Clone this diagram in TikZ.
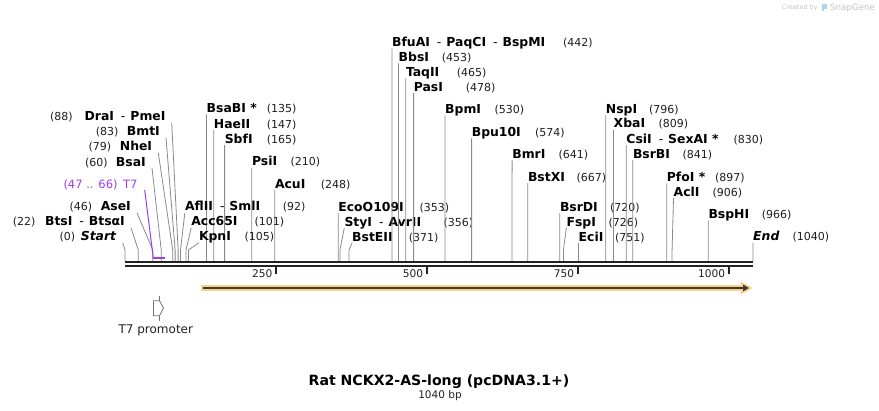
\documentclass[tikz,border=0pt]{standalone}
\usepackage{fontspec}
\setmainfont{DejaVu Sans}
\usetikzlibrary{arrows.meta}
\definecolor{barC}{HTML}{222222}
\definecolor{cutC}{HTML}{8A8A8A}
\definecolor{purC}{HTML}{A03CF0}
\definecolor{oraC}{HTML}{FDD085}
\definecolor{arrC}{HTML}{3A3A3A}
\definecolor{wmC}{HTML}{C4C4C4}
\definecolor{logoC}{HTML}{A9D5F2}
\newcommand\sepd{\hspace{7pt}\textmd{-}\hspace{5pt}}
% key, name, numx, num, bp, ycenter, label x (left edge)
\newcommand\siteR[7]{%
  \node[nm, anchor=base west] (#1) at (#7, #6+4.3) {#2};
  \node[nu, anchor=base west] (#1n) at (#3, #6+4.3) {#4};
  \coordinate (#1k) at ({125+0.60385*#5}, 250);
  \coordinate (#1b) at ({125+0.60385*#5}, 261);
  \draw[cut] ([yshift=-1.8pt]#1.base west) -- (#1k) -- (#1b);
}
% key, name, numx, num, bp, ycenter, label x (right edge)
\newcommand\siteL[7]{%
  \node[nm, anchor=base east] (#1) at (#7, #6+4.3) {#2};
  \node[nu, anchor=base west] (#1n) at (#3, #6+4.3) {#4};
  \coordinate (#1k) at ({125+0.60385*#5}, 250);
  \coordinate (#1b) at ({125+0.60385*#5}, 261);
  \draw[cut] ([xshift=6pt,yshift=-1.8pt]#1.base east) -- (#1k) -- (#1b);
}
\begin{document}
\begin{tikzpicture}[x=1pt,y=-1pt,
  nm/.style={inner sep=0pt, font=\fontsize{12.4}{14}\selectfont\bfseries, text=black},
  nu/.style={inner sep=0pt, font=\fontsize{11}{13}\selectfont, text=black!88},
  cut/.style={draw=cutC, line width=0.8pt},
  tk/.style={inner sep=0pt, font=\fontsize{10.6}{12}\selectfont, text=barC},
  t7lab/.style={inner sep=0pt, font=\fontsize{11.5}{13}\selectfont, text=purC}]
\useasboundingbox (0,0) rectangle (879,411);
\fill[white] (0,0) rectangle (879,411);

% watermark
\node[inner sep=0pt, anchor=base west, font=\fontsize{6.5}{8}\selectfont, text=wmC] (wm1) at (781.7,9.3) {Created by};
\fill[logoC] (822,4) rectangle (827.3,8.6);
\fill[logoC] (822,8.6) rectangle (824.3,11.3);
\node[inner sep=0pt, anchor=base west, font=\fontsize{8.7}{10}\selectfont, text=wmC] (wm2) at (830,10.2) {SnapGene};

% left-side labels
\siteL{st}{\textit{Start}}{59.3}{(0)}{0}{236.7}{116.7}
\siteL{bts}{BtsI\sepd BtsαI}{12.7}{(22)}{22}{221.7}{125}
\siteL{ase}{AseI}{69.3}{(46)}{46}{206.7}{131}
\siteL{bsa}{BsaI}{85}{(60)}{60}{162}{146}
\siteL{nhe}{NheI}{88.3}{(79)}{79}{146.7}{152.3}
\siteL{bmt}{BmtI}{95.7}{(83)}{83}{131.7}{160}
\siteL{dra}{DraI\sepd PmeI}{50}{(88)}{88}{116.7}{165.7}

% T7 primer binding
\node[t7lab, anchor=base east] (t7) at (137.7,188.3) {T7};
\node[t7lab, anchor=base west] (t7n) at (63.3,188.3) {(47 .. 66)};
\coordinate (t7s) at (153.4,257.7);
\coordinate (t7e) at (164.9,257.7);
\draw[purC, line width=1pt] ([xshift=7pt,yshift=-1.8pt]t7.base east) -- ([yshift=-1pt]t7s);
\draw[purC, line width=2.3pt] (t7s) -- (t7e);

% right-side labels
\siteR{bsabi}{BsaBI *}{266.7}{(135)}{135}{108.3}{206.5}
\siteR{hae}{HaeII}{266.7}{(147)}{147}{124}{213.7}
\siteR{sbf}{SbfI}{266.7}{(165)}{165}{139}{224.6}
\siteR{psi}{PsiI}{290.4}{(210)}{210}{161.7}{251.8}
\siteR{acu}{AcuI}{320.7}{(248)}{248}{184}{274.8}
\siteR{afl}{AflII\sepd SmlI}{282.7}{(92)}{92}{206.7}{184.8}
\siteR{acc}{Acc65I}{254.3}{(101)}{101}{221.7}{191.2}
\siteR{kpn}{KpnI}{244.3}{(105)}{105}{236.7}{198.8}
\siteR{eco}{EcoO109I}{419.3}{(353)}{353}{207}{338.2}
\siteR{sty}{StyI\sepd AvrII}{443.3}{(356)}{356}{222}{344.3}
\siteR{bste}{BstEII}{408.7}{(371)}{371}{237}{352}
\siteR{bfu}{BfuAI\sepd PaqCI\sepd BspMI}{563}{(442)}{442}{42.3}{391.9}
\siteR{bbs}{BbsI}{441.7}{(453)}{453}{57.3}{398.5}
\siteR{taq}{TaqII}{456.7}{(465)}{465}{72.3}{405.8}
\siteR{pas}{PasI}{465.7}{(478)}{478}{87}{413.6}
\siteR{bpm}{BpmI}{494.3}{(530)}{530}{109.3}{445.0}
\siteR{bpu}{Bpu10I}{535}{(574)}{574}{132.3}{471.6}
\siteR{bmr}{BmrI}{558.3}{(641)}{641}{154.3}{512.1}
\siteR{bstx}{BstXI}{576.4}{(667)}{667}{177}{527.8}
\siteR{bsrd}{BsrDI}{610}{(720)}{720}{207}{559.8}
\siteR{fsp}{FspI}{608.3}{(726)}{726}{222}{566.4}
\siteR{eci}{EciI}{615}{(751)}{751}{237}{578.5}
\siteR{nsp}{NspI}{649}{(796)}{796}{109.3}{605.7}
\siteR{xba}{XbaI}{658.3}{(809)}{809}{123.7}{613.5}
\siteR{csi}{CsiI\sepd SexAI *}{733.3}{(830)}{830}{139}{626.2}
\siteR{bsrb}{BsrBI}{682.3}{(841)}{841}{154}{632.8}
\siteR{pfo}{PfoI *}{715}{(897)}{897}{177.3}{666.7}
\siteR{acl}{AclI}{712.3}{(906)}{906}{192}{673.5}
\siteR{bsph}{BspHI}{761.7}{(966)}{966}{214.3}{708.3}
\siteR{en}{\textit{End}}{792.3}{(1040)}{1040}{236.7}{753}

% sequence bar
\coordinate (b0) at (125,262);
\coordinate (b1) at (753,262);
\draw[barC, line width=2.6pt] (b0) -- (b1);
\draw[barC, line width=2.6pt] ([yshift=-4pt]b0) -- ([yshift=-4pt]b1);
\foreach \t in {250,500,750,1000} {
  \coordinate (tk\t) at ({125+0.60385*\t},266);
  \draw[barC, line width=1.8pt] (tk\t) -- ++(0,8);
  \node[tk, anchor=base east] (tl\t) at ([xshift=-3.5pt,yshift=-11.6pt]tk\t) {\t};
}

% ORF arrow
\coordinate (oa) at (201,288);
\coordinate (ob) at (749,288);
\draw[oraC, line width=5.5pt] (oa) -- ([xshift=-5pt]ob);
\fill[oraC] (740.5,281.5) -- (752.5,288) -- (740.5,294.5) -- cycle;
\draw[arrC, line width=1.6pt, -{Triangle[length=6pt,width=6.5pt]}] ([xshift=2pt]oa) -- (ob);

% T7 promoter feature
\draw[black!55, fill=white, line width=0.8pt] (153.4,300.7) -- (159.5,300.7) -- (163.5,308.2) -- (159.5,315.7) -- (153.4,315.7) -- cycle;
\draw[black!55, line width=0.8pt] (159.3,296) -- (159.3,300.7) (159.3,315.7) -- (159.3,320.7);
\node[inner sep=0pt, anchor=base, font=\fontsize{12}{14}\selectfont, text=barC] (t7p) at (155.8,334) {T7 promoter};

% title
\node[inner sep=0pt, anchor=base, font=\fontsize{14.1}{16}\selectfont\bfseries, text=black] (title) at (439,385.5) {Rat NCKX2-AS-long (pcDNA3.1+)};
\node[inner sep=0pt, anchor=base, font=\fontsize{10.5}{12}\selectfont, text=barC] (len) at (440,399) {1040 bp};
\end{tikzpicture}
\end{document}
